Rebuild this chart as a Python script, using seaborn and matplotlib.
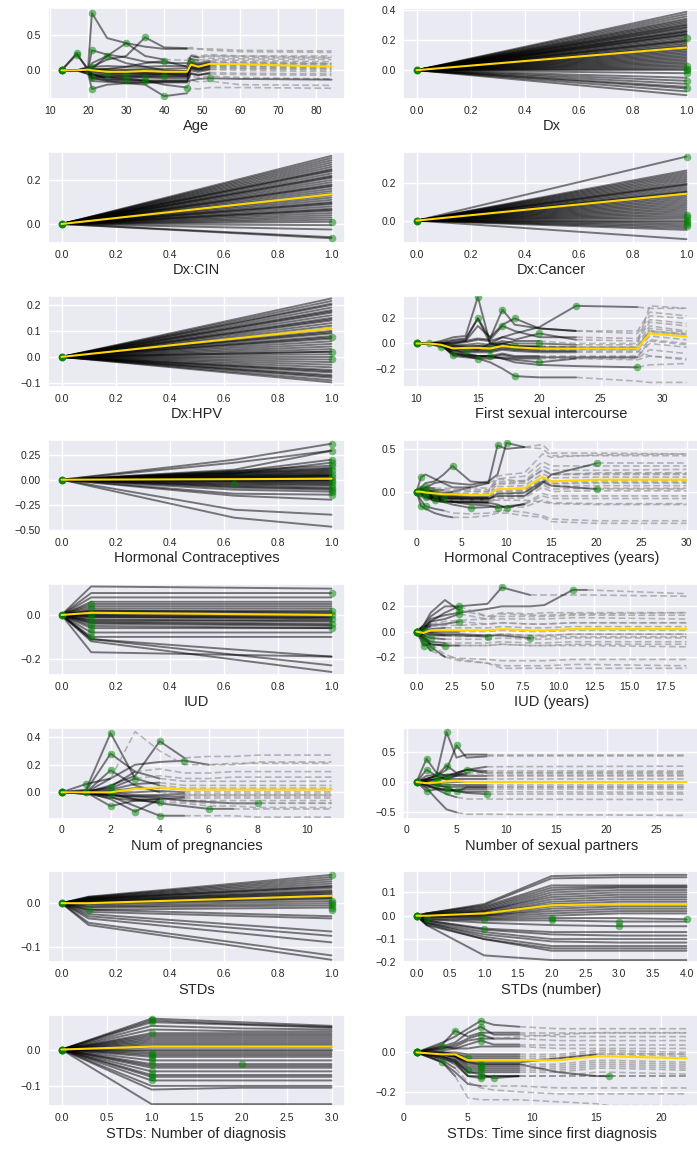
import matplotlib
matplotlib.use("Agg")
import matplotlib.pyplot as plt
import seaborn as sns

# ---------------- data ----------------
# Age
AGE_X = [13, 17, 20, 21, 25, 30, 35, 40, 46, 47, 49, 52, 60, 84]
AGE_MEAN = [0, 0.0, 0.01, 0.0, -0.02, -0.02, -0.01, -0.02, -0.02, 0.08, 0.05, 0.09, 0.085, 0.05]
AGE_CURVES = [
    [0, 0.0, 0.05, 0.8, 0.45, 0.38, 0.33, 0.3, 0.3, 0.32, 0.3, 0.3, 0.28, 0.27],
    [0, 0.0, 0.02, 0.05, 0.15, 0.2, 0.46, 0.32, 0.31, 0.3, 0.3, 0.28, 0.26, 0.25],
    [0, 0.0, 0.0, 0.1, 0.2, 0.38, 0.2, 0.15, 0.14, 0.22, 0.2, 0.22, 0.2, 0.2],
    [0, 0.0, 0.0, 0.28, 0.22, 0.18, 0.12, 0.1, 0.1, 0.2, 0.18, 0.2, 0.18, 0.17],
    [0, 0.24, 0.0, 0.02, 0.0, -0.02, -0.02, -0.03, -0.03, 0.07, 0.05, 0.08, 0.08, 0.06],
    [0, 0.22, 0.02, 0.0, -0.03, -0.04, -0.05, -0.05, -0.05, 0.05, 0.03, 0.06, 0.06, 0.04],
    [0, 0.0, -0.05, -0.26, -0.2, -0.18, -0.17, -0.17, -0.17, -0.08, -0.1, -0.08, -0.1, -0.12],
    [0, 0.0, -0.05, -0.1, -0.15, -0.18, -0.2, -0.36, -0.32, -0.25, -0.26, -0.24, -0.24, -0.25],
    [0, 0.0, -0.03, -0.06, -0.1, -0.12, -0.14, -0.2, -0.24, -0.14, -0.16, -0.15, -0.2, -0.21],
    [0, 0.0, -0.02, -0.12, -0.13, -0.13, -0.14, -0.14, -0.14, -0.04, -0.06, -0.05, -0.06, -0.07],
    [0, 0.0, 0.0, -0.1, -0.1, -0.11, -0.1, -0.11, -0.11, 0.0, -0.02, 0.01, 0.0, -0.02],
    [0, 0.0, 0.0, -0.07, -0.08, -0.08, -0.08, -0.08, -0.08, 0.03, 0.01, 0.04, 0.03, 0.02],
    [0, 0.0, 0.01, -0.04, -0.05, -0.05, -0.05, -0.05, -0.06, 0.06, 0.04, 0.07, 0.06, 0.05],
    [0, 0.0, 0.01, -0.02, -0.03, -0.03, -0.03, -0.03, -0.03, 0.09, 0.07, 0.1, 0.09, 0.08],
    [0, 0.0, 0.02, 0.0, -0.01, 0.0, 0.0, -0.01, -0.01, 0.12, 0.1, 0.13, 0.12, 0.1],
    [0, 0.0, 0.01, 0.02, 0.02, 0.01, 0.02, 0.02, 0.03, 0.16, 0.14, 0.17, 0.16, 0.15],
    [0, 0.0, 0.03, 0.05, 0.06, 0.05, 0.05, 0.06, 0.06, 0.2, 0.18, 0.2, 0.2, 0.18],
    [0, 0.0, 0.0, -0.15, -0.16, -0.16, -0.17, -0.16, -0.16, -0.14, -0.12, -0.11, -0.12, -0.13],
    [0, 0.0, 0.0, -0.05, -0.13, -0.14, -0.15, -0.15, -0.15, -0.05, -0.07, -0.03, -0.04, -0.05],
    [0, 0.0, 0.02, 0.02, 0.2, 0.1, 0.05, 0.0, -0.01, 0.1, 0.08, 0.11, 0.1, 0.09],
    [0, 0.0, 0.0, 0.0, 0.02, 0.05, 0.1, 0.13, 0.05, 0.15, 0.12, 0.15, 0.14, 0.12],
    [0, 0.0, -0.01, -0.09, -0.09, -0.09, -0.09, -0.09, -0.09, 0.02, 0.0, 0.02, 0.02, 0.0],
    [0, 0.0, -0.01, -0.06, -0.06, -0.07, -0.07, -0.06, -0.07, 0.04, 0.02, 0.05, 0.04, 0.03],
    [0, 0.0, 0.0, -0.01, -0.02, -0.01, -0.02, -0.02, -0.02, 0.1, 0.08, 0.11, 0.11, 0.09],
]
AGE_SOLID = [8, 8, 7, 8, 11, 11, 8, 8, 8, 11, 11, 11, 11, 11, 11, 10, 10, 13, 11, 8, 8, 11, 11, 11]
AGE_OBS = [3, 6, 5, 3, 1, 1, 3, 7, 8, 5, 6, 7, 4, 0, 9, 2, 3, 11, 6, 4, 7, 3, 5, 0]

# Dx
DX_END = [0.385, 0.37, 0.355, 0.34, 0.33, 0.32, 0.31, 0.30, 0.295, 0.285, 0.28, 0.27, 0.26,
          0.255, 0.25, 0.24, 0.235, 0.23, 0.22, 0.21, 0.2, 0.195, 0.19, 0.18, 0.17, 0.16,
          0.155, 0.15, 0.14, 0.13, 0.12, 0.11, 0.10, 0.09, 0.08, 0.07, 0.06, 0.05, 0.04,
          0.03, 0.02, 0.01, 0.0, -0.02, -0.05, -0.07, -0.09, -0.11, -0.12, -0.14, -0.165]
DX_DOTS = [0.21, 0.03, 0.01, 0.0, -0.02, -0.07, -0.12]
DX_MEAN = [0, 0.15]

# Dx:CIN
CIN_END = [0.31, 0.30, 0.29, 0.28, 0.27, 0.26, 0.25, 0.245, 0.24, 0.23, 0.22, 0.215, 0.21,
           0.2, 0.19, 0.18, 0.175, 0.17, 0.16, 0.15, 0.14, 0.13, 0.12, 0.11, 0.1, 0.095,
           0.09, 0.08, 0.07, 0.065, 0.06, 0.05, 0.04, 0.03, 0.02, 0.01, -0.005, -0.025,
           -0.06, -0.065]
CIN_DOTS = [0.01, -0.065]
CIN_MEAN = [0, 0.135]

# Dx:Cancer
CAN_END = [0.345, 0.27, 0.26, 0.25, 0.24, 0.23, 0.22, 0.21, 0.2, 0.195, 0.19, 0.18, 0.17,
           0.16, 0.155, 0.15, 0.14, 0.13, 0.12, 0.11, 0.1, 0.09, 0.08, 0.07, 0.06, 0.05,
           0.04, 0.03, 0.02, 0.01, 0.0, -0.01, -0.02, -0.03, -0.04, -0.05, -0.1]
CAN_DOTS = [0.345, 0.03, 0.02, 0.005, -0.01, -0.02, -0.03]
CAN_MEAN = [0, 0.145]

# Dx:HPV
HPV_END = [0.225, 0.215, 0.205, 0.2, 0.19, 0.18, 0.175, 0.17, 0.16, 0.15, 0.145, 0.14, 0.13,
           0.12, 0.11, 0.1, 0.095, 0.09, 0.08, 0.075, 0.07, 0.06, 0.05, 0.04, 0.03, 0.02,
           0.02, 0.01, 0.0, -0.01, -0.02, -0.03, -0.04, -0.05, -0.055, -0.06, -0.07,
           -0.075, -0.08, -0.09, -0.098]
HPV_DOTS = [0.075, 0.02, -0.01]
HPV_MEAN = [0, 0.11]

# First sexual intercourse
FSI_X = [10, 11, 12, 13, 14, 15, 16, 17, 18, 20, 23, 28, 29, 32]
FSI_MEAN = [0, 0, -0.01, -0.04, -0.035, -0.035, -0.04, -0.02, -0.03, -0.04, -0.04, -0.04, 0.08, 0.055]
FSI_CURVES = [
    [0, 0, 0.02, 0.05, 0.06, 0.37, 0.0, -0.02, -0.03, -0.03, -0.03, -0.03, 0.09, 0.07],
    [0, 0, 0.01, 0.03, 0.04, 0.2, 0.04, 0.27, 0.15, 0.12, 0.1, 0.08, 0.22, 0.2],
    [0, 0, 0.0, 0.02, 0.03, 0.2, 0.0, 0.0, -0.02, -0.02, -0.03, -0.03, 0.1, 0.08],
    [0, 0, 0.0, 0.0, 0.02, 0.14, 0.05, 0.15, 0.2, 0.12, 0.1, 0.1, 0.25, 0.22],
    [0, 0, 0.0, -0.02, -0.03, -0.05, 0.0, 0.05, 0.08, 0.13, 0.3, 0.29, 0.28, 0.28],
    [0, 0, -0.02, -0.08, -0.1, -0.12, -0.15, -0.2, -0.26, -0.27, -0.27, -0.3, -0.31, -0.31],
    [0, 0, -0.02, -0.05, -0.08, -0.1, -0.1, -0.12, -0.15, -0.17, -0.18, -0.19, -0.17, -0.16],
    [0, 0, -0.01, -0.1, -0.11, -0.12, -0.12, -0.11, -0.12, -0.12, -0.12, -0.12, -0.05, -0.08],
    [0, 0, -0.01, -0.08, -0.09, -0.1, -0.1, -0.08, -0.1, -0.1, -0.1, -0.1, 0.0, -0.03],
    [0, 0, -0.01, -0.06, -0.07, -0.07, -0.07, -0.05, -0.06, -0.07, -0.07, -0.07, 0.03, 0.0],
    [0, 0, -0.01, -0.04, -0.05, -0.05, -0.05, -0.03, -0.04, -0.05, -0.05, -0.05, 0.06, 0.03],
    [0, 0, -0.01, -0.03, -0.03, -0.02, -0.03, 0.0, -0.02, -0.03, -0.03, -0.03, 0.1, 0.07],
    [0, 0, 0.0, -0.01, -0.01, 0.0, -0.01, 0.02, 0.0, 0.0, -0.01, -0.01, 0.14, 0.1],
    [0, 0, 0.0, 0.0, 0.01, 0.03, 0.02, 0.05, 0.03, 0.08, 0.03, 0.02, 0.17, 0.14],
    [0, 0, 0.0, 0.01, 0.02, 0.04, 0.03, 0.14, 0.1, 0.05, 0.05, 0.04, 0.19, 0.16],
    [0, 0, -0.01, -0.07, -0.09, -0.1, -0.1, -0.12, -0.13, -0.15, -0.12, -0.13, -0.1, -0.12],
    [0, 0, -0.03, -0.02, -0.02, -0.02, -0.02, 0.0, 0.02, 0.02, 0.0, 0.0, 0.3, 0.28],
    [0, 0, -0.01, -0.05, -0.06, -0.06, -0.06, -0.04, -0.05, -0.06, -0.06, -0.06, -0.1, -0.13],
    [0, 0, -0.01, -0.09, -0.1, -0.11, -0.11, -0.09, -0.11, -0.11, -0.11, -0.11, 0.02, -0.01],
    [0, 0, -0.01, -0.05, -0.04, -0.04, -0.04, -0.02, -0.03, -0.04, -0.04, -0.04, 0.12, 0.09],
]
FSI_SOLID = [9, 10, 9, 10, 11, 10, 11, 9, 9, 10, 9, 10, 10, 10, 10, 10, 9, 10, 11, 11]
FSI_OBS = [5, 7, 5, 8, 10, 8, 11, 5, 6, 0, 1, 8, 9, 9, 7, 9, 2, 4, 3, 6]

# Hormonal Contraceptives
HC_X = [0, 0.64, 1]
HC_MID = [0.2, 0.17, 0.1, 0.08, 0.06, 0.09, 0.08, 0.07, 0.065, 0.06, 0.05, 0.045, 0.04,
          0.035, 0.03, 0.025, 0.02, 0.015, 0.01, 0.005, 0.0, -0.005, -0.01, -0.015, -0.02,
          -0.03, -0.04, -0.05, -0.06, -0.07, -0.08, -0.1, -0.14, -0.16, -0.3, -0.38]
HC_END = [0.36, 0.29, 0.29, 0.2, 0.17, 0.14, 0.12, 0.11, 0.1, 0.09, 0.08, 0.07, 0.06, 0.05,
          0.045, 0.04, 0.035, 0.03, 0.02, 0.01, 0.0, -0.005, -0.01, -0.02, -0.03, -0.04,
          -0.05, -0.06, -0.08, -0.09, -0.1, -0.12, -0.15, -0.2, -0.35, -0.47]
HC_DOT_X = [1, 1, 1, 1, 1, 1, 1, 1, 1, 1, 1, 1, 1, 1, 1, 0.64]
HC_DOT_Y = [0.36, 0.29, 0.2, 0.17, 0.14, 0.1, 0.06, 0.03, 0.0, -0.02, -0.05, -0.08, -0.1,
            -0.12, -0.15, -0.04]
HC_MEAN = [0, 0.005, 0.01]

# Hormonal Contraceptives (years)
HCY_X = [0, 0.5, 1, 2, 3, 4, 6, 8, 9, 10, 12, 14, 15, 20, 30]
HCY_MEAN = [0, 0.0, -0.01, -0.02, -0.03, -0.03, -0.04, -0.04, 0.03, 0.03, 0.04, 0.17, 0.12, 0.14, 0.14]
HCY_CURVES = [
    [0, 0.05, 0.1, 0.12, 0.2, 0.3, 0.12, 0.1, 0.15, 0.14, 0.12, 0.25, 0.2, 0.2, 0.2],
    [0, 0.02, 0.0, -0.02, -0.03, 0.0, 0.05, 0.1, 0.54, 0.5, 0.52, 0.55, 0.45, 0.45, 0.44],
    [0, 0.0, 0.05, 0.1, 0.12, 0.1, 0.08, 0.12, 0.2, 0.57, 0.52, 0.5, 0.42, 0.42, 0.42],
    [0, 0.17, 0.2, 0.15, 0.1, 0.05, 0.05, 0.04, 0.1, 0.1, 0.12, 0.25, 0.2, 0.22, 0.22],
    [0, -0.17, -0.2, -0.25, -0.28, -0.3, -0.3, -0.28, -0.25, -0.25, -0.28, -0.3, -0.35, -0.37, -0.37],
    [0, -0.1, -0.17, -0.2, -0.22, -0.25, -0.26, -0.25, -0.23, -0.22, -0.24, -0.28, -0.32, -0.34, -0.34],
    [0, -0.05, -0.08, -0.1, -0.12, -0.15, -0.19, -0.18, -0.17, -0.18, -0.18, -0.1, -0.13, -0.14, -0.14],
    [0, -0.03, -0.06, -0.08, -0.1, -0.12, -0.15, -0.16, -0.19, -0.17, -0.15, -0.05, -0.08, -0.08, -0.08],
    [0, -0.02, -0.05, -0.08, -0.1, -0.12, -0.12, -0.13, -0.15, -0.19, -0.14, -0.02, -0.05, -0.05, -0.05],
    [0, -0.02, -0.04, -0.1, -0.11, -0.11, -0.12, -0.12, -0.06, -0.06, -0.05, 0.08, 0.03, 0.04, 0.04],
    [0, -0.01, -0.03, -0.08, -0.09, -0.09, -0.1, -0.1, -0.03, -0.03, -0.02, 0.1, 0.06, 0.07, 0.07],
    [0, 0.0, -0.02, -0.06, -0.07, -0.07, -0.08, -0.08, 0.0, 0.0, 0.01, 0.13, 0.09, 0.1, 0.1],
    [0, 0.0, -0.01, -0.04, -0.05, -0.05, -0.06, -0.06, 0.03, 0.03, 0.04, 0.17, 0.12, 0.13, 0.13],
    [0, 0.01, 0.0, -0.02, -0.03, -0.03, -0.04, -0.04, 0.06, 0.06, 0.07, 0.21, 0.16, 0.17, 0.17],
    [0, 0.02, 0.01, 0.0, -0.01, -0.01, -0.02, -0.02, 0.09, 0.09, 0.1, 0.26, 0.2, 0.21, 0.21],
    [0, 0.03, 0.03, 0.02, 0.02, 0.02, 0.01, 0.0, 0.12, 0.12, 0.13, 0.3, 0.25, 0.25, 0.26],
    [0, 0.04, 0.05, 0.04, 0.04, 0.04, 0.03, 0.02, 0.15, 0.16, 0.18, 0.35, 0.3, 0.3, 0.3],
    [0, -0.02, -0.04, -0.06, -0.07, -0.08, -0.08, -0.08, -0.05, -0.05, -0.05, 0.1, 0.2, 0.33, 0.33],
    [0, -0.01, -0.03, -0.07, -0.08, -0.08, -0.09, -0.09, -0.02, -0.02, -0.01, 0.12, 0.07, 0.03, 0.03],
    [0, 0.01, 0.02, 0.0, 0.0, 0.0, 0.0, 0.0, 0.18, 0.2, 0.22, 0.44, 0.4, 0.43, 0.44],
    [0, -0.03, -0.06, -0.08, -0.1, -0.1, -0.1, -0.1, -0.1, -0.1, -0.1, -0.12, -0.14, -0.15, -0.15],
    [0, -0.02, -0.05, -0.11, -0.12, -0.12, -0.13, -0.13, -0.08, -0.08, -0.07, 0.05, 0.0, 0.01, 0.01],
    [0, -0.01, -0.02, -0.05, -0.06, -0.06, -0.07, -0.07, 0.02, 0.01, 0.02, 0.15, 0.1, 0.11, 0.11],
]
HCY_SOLID = [7, 10, 10, 6, 5, 4, 8, 10, 10, 7, 7, 7, 7, 6, 5, 4, 3, 13, 13, 3, 4, 7, 7]
HCY_OBS = [5, 8, 9, 1, 1, 2, 6, 8, 9, 3, 4, 2, 0, 3, 2, 1, 2, 13, 13, 0, 2, 1, 0]

# IUD
IUD_X = [0, 0.11, 1]
IUD_MID = [0.13, 0.1, 0.08, 0.06, 0.05, 0.04, 0.03, 0.02, 0.02, 0.01, 0.01, 0.0, 0.0,
           -0.01, -0.01, -0.02, -0.03, -0.04, -0.05, -0.06, -0.08, -0.1, -0.11, -0.11,
           -0.12, -0.17, 0.015, -0.005, -0.025, -0.035]
IUD_END = [0.12, 0.1, 0.08, 0.06, 0.05, 0.04, 0.03, 0.02, 0.01, 0.0, 0.005, -0.01, 0.0,
           -0.02, -0.01, -0.03, -0.04, -0.05, -0.06, -0.06, -0.08, -0.1, -0.19, -0.23,
           -0.26, -0.19, 0.015, -0.015, -0.025, -0.045]
IUD_DOT_X = [0.11, 0.11, 0.11, 0.11, 0.11, 0.11, 0.11, 0.11, 1, 1, 1, 1, 1, 1]
IUD_DOT_Y = [0.05, 0.03, 0.0, -0.02, -0.04, -0.06, -0.08, -0.1, 0.1, 0.02, 0.0, -0.02, -0.04, -0.06]
IUD_MEAN = [0, 0.01, 0.0]

# IUD (years)
IUDY_X = [0, 0.5, 1, 2, 3, 5, 6, 8, 9, 11, 12, 19]
IUDY_MEAN = [0, -0.01, 0.01, 0.01, 0.01, 0.01, 0.02, 0.01, 0.01, 0.02, 0.02, 0.02]
IUDY_CURVES = [
    [0, 0.02, 0.08, 0.15, 0.2, 0.22, 0.35, 0.29, 0.29, 0.29, 0.29, 0.28],
    [0, 0.03, 0.1, 0.13, 0.15, 0.18, 0.2, 0.2, 0.21, 0.33, 0.33, 0.3],
    [0, 0.05, 0.12, 0.2, 0.2, 0.12, 0.15, 0.14, 0.15, 0.15, 0.15, 0.15],
    [0, 0.05, 0.15, 0.25, 0.17, 0.12, 0.12, 0.12, 0.12, 0.13, 0.13, 0.13],
    [0, 0.03, 0.08, 0.1, 0.14, 0.1, 0.1, 0.1, 0.1, 0.11, 0.11, 0.1],
    [0, 0.02, 0.05, 0.06, 0.08, 0.06, 0.07, 0.06, 0.06, 0.07, 0.07, 0.07],
    [0, -0.05, -0.08, -0.09, -0.09, -0.09, -0.08, -0.09, -0.09, -0.08, -0.08, -0.08],
    [0, -0.03, -0.05, -0.06, -0.06, -0.06, -0.05, -0.06, -0.06, -0.05, -0.05, -0.05],
    [0, -0.02, -0.03, -0.03, -0.04, -0.03, -0.02, -0.03, -0.03, -0.02, -0.02, -0.02],
    [0, 0.0, 0.0, 0.0, 0.0, 0.0, 0.01, 0.0, 0.0, 0.01, 0.01, 0.01],
    [0, 0.01, 0.02, 0.03, 0.03, 0.03, 0.04, 0.03, 0.03, 0.04, 0.04, 0.04],
    [0, 0.02, 0.04, 0.05, 0.05, 0.06, 0.07, 0.06, 0.06, 0.07, 0.07, 0.07],
    [0, -0.11, -0.1, -0.11, -0.11, -0.11, -0.1, -0.11, -0.11, -0.1, -0.1, -0.1],
    [0, -0.06, -0.1, -0.11, -0.11, -0.11, -0.1, -0.11, -0.11, -0.11, -0.11, -0.12],
    [0, -0.08, -0.15, -0.2, -0.21, -0.22, -0.23, -0.23, -0.23, -0.22, -0.22, -0.22],
    [0, -0.05, -0.12, -0.2, -0.23, -0.25, -0.27, -0.27, -0.27, -0.26, -0.26, -0.27],
    [0, -0.03, -0.1, -0.18, -0.22, -0.25, -0.29, -0.29, -0.29, -0.29, -0.29, -0.29],
    [0, -0.01, -0.02, -0.03, -0.03, -0.04, -0.02, -0.03, -0.03, -0.02, -0.02, -0.02],
    [0, 0.0, -0.01, -0.02, -0.02, -0.03, -0.03, -0.05, -0.04, -0.04, -0.04, -0.04],
    [0, 0.03, 0.06, 0.08, 0.09, 0.1, 0.14, 0.13, 0.13, 0.14, 0.14, 0.15],
]
IUDY_SOLID = [7, 10, 4, 4, 4, 4, 3, 3, 3, 4, 3, 2, 3, 4, 2, 3, 2, 5, 7, 2]
IUDY_OBS = [6, 9, 4, 4, 4, 4, 1, 2, 0, 0, 1, 0, 1, 3, 1, 2, 0, 5, 7, 0]

# Num of pregnancies
NP_X = [0, 1, 2, 3, 4, 5, 6, 7, 8, 11]
NP_MEAN = [0, 0.0, 0.0, 0.025, 0.035, 0.02, 0.02, 0.02, 0.02, 0.02]
NP_CURVES = [
    [0, 0.02, 0.43, 0.1, 0.05, 0.03, 0.03, 0.03, 0.03, 0.03],
    [0, 0.01, 0.28, 0.15, 0.1, 0.08, 0.08, 0.08, 0.08, 0.08],
    [0, 0.0, 0.05, 0.12, 0.37, 0.25, 0.26, 0.26, 0.27, 0.27],
    [0, 0.0, 0.1, 0.2, 0.22, 0.23, 0.2, 0.2, 0.22, 0.22],
    [0, 0.06, 0.1, 0.44, 0.3, 0.2, 0.2, 0.21, 0.21, 0.21],
    [0, 0.0, -0.05, -0.14, -0.05, -0.06, -0.06, -0.06, -0.06, -0.06],
    [0, 0.0, -0.03, -0.1, -0.17, -0.17, -0.17, -0.17, -0.18, -0.18],
    [0, -0.01, -0.02, -0.05, -0.08, -0.1, -0.12, -0.12, -0.12, -0.12],
    [0, -0.01, -0.02, -0.03, -0.04, -0.06, -0.07, -0.08, -0.08, -0.08],
    [0, -0.01, -0.01, -0.05, -0.05, -0.04, -0.04, -0.04, -0.04, -0.04],
    [0, 0.0, 0.0, -0.02, -0.02, -0.01, -0.01, -0.01, -0.01, -0.01],
    [0, 0.0, 0.01, 0.03, 0.03, 0.02, 0.02, 0.02, 0.02, 0.02],
    [0, 0.0, 0.02, 0.06, 0.07, 0.05, 0.05, 0.05, 0.05, 0.05],
    [0, 0.01, 0.03, 0.1, 0.12, 0.1, 0.1, 0.11, 0.11, 0.11],
    [0, 0.0, 0.04, 0.15, 0.17, 0.14, 0.14, 0.15, 0.15, 0.15],
    [0, 0.0, -0.1, -0.06, -0.05, -0.07, -0.08, -0.08, -0.08, -0.08],
    [0, 0.0, 0.16, 0.05, 0.0, -0.02, -0.02, -0.02, -0.02, -0.02],
    [0, -0.01, -0.04, -0.06, -0.07, -0.08, -0.1, -0.1, -0.11, -0.11],
    [0, 0.0, -0.02, -0.03, -0.03, -0.03, -0.03, -0.03, -0.03, -0.03],
    [0, 0.0, 0.0, 0.0, 0.01, 0.0, 0.0, 0.0, 0.0, 0.0],
]
NP_SOLID = [4, 4, 5, 6, 2, 4, 5, 7, 8, 5, 5, 4, 4, 3, 3, 4, 4, 4, 5, 5]
NP_OBS = [2, 2, 4, 5, 1, 3, 4, 6, 8, 2, 1, 0, 2, 3, 2, 2, 2, 4, 1, 0]

# Number of sexual partners
NSP_X = [1, 2, 3, 4, 5, 6, 8, 28]
NSP_MEAN = [0, -0.02, -0.01, 0.01, 0.02, 0.0, 0.0, 0.0]
NSP_CURVES = [
    [0, 0.1, 0.12, 0.82, 0.4, 0.45, 0.45, 0.45],
    [0, 0.05, 0.1, 0.2, 0.6, 0.4, 0.42, 0.42],
    [0, 0.38, 0.15, 0.1, 0.15, 0.2, 0.25, 0.26],
    [0, 0.2, 0.1, 0.05, 0.1, 0.15, 0.15, 0.16],
    [0, 0.05, 0.1, 0.27, 0.15, 0.2, 0.18, 0.18],
    [0, 0.02, 0.05, 0.1, 0.12, 0.2, 0.15, 0.14],
    [0, -0.1, -0.28, -0.45, -0.5, -0.53, -0.53, -0.55],
    [0, -0.05, -0.12, -0.2, -0.25, -0.28, -0.28, -0.29],
    [0, -0.05, -0.1, -0.12, -0.15, -0.18, -0.2, -0.2],
    [0, -0.15, -0.12, -0.13, -0.15, -0.16, -0.16, -0.17],
    [0, -0.08, -0.1, -0.15, -0.13, -0.12, -0.12, -0.12],
    [0, -0.05, -0.06, -0.08, -0.15, -0.09, -0.09, -0.09],
    [0, -0.02, -0.03, -0.04, -0.05, -0.05, -0.05, -0.05],
    [0, 0.0, 0.0, 0.0, 0.0, 0.0, 0.0, 0.0],
    [0, 0.02, 0.04, 0.05, 0.05, 0.05, 0.05, 0.05],
    [0, 0.03, 0.05, 0.08, 0.1, 0.1, 0.1, 0.1],
    [0, 0.05, 0.1, 0.12, 0.13, 0.12, 0.12, 0.12],
    [0, 0.0, -0.05, -0.08, -0.08, -0.08, -0.08, -0.08],
]
NSP_SOLID = [6, 6, 6, 5, 6, 6, 4, 4, 6, 6, 6, 6, 6, 6, 6, 6, 5, 6]
NSP_OBS = [3, 4, 1, 1, 3, 5, 0, 0, 6, 1, 3, 4, 2, 2, 2, 3, 2, 3]

# STDs
STD_X = [0, 0.1, 1]
STD_MID = [0.015, 0.014, 0.013, 0.012, 0.011, 0.01, 0.01, 0.009, 0.008, 0.007, 0.006, 0.005,
           0.004, 0.003, 0.002, 0.0, -0.002, -0.005, -0.008, -0.01, -0.015, -0.015, -0.02,
           -0.025, -0.03, -0.035, -0.045, -0.05]
STD_END = [0.065, 0.06, 0.055, 0.05, 0.045, 0.04, 0.038, 0.035, 0.03, 0.027, 0.025, 0.022,
           0.02, 0.017, 0.015, 0.012, 0.01, 0.005, 0.0, -0.005, -0.01, -0.03, -0.035,
           -0.065, -0.075, -0.09, -0.12, -0.13]
STD_DOT_X = [1, 1, 1, 1, 1, 1, 0.1]
STD_DOT_Y = [0.065, 0.005, 0.0, -0.005, -0.01, -0.015, -0.015]
STD_MEAN = [0, 0.0, 0.017]

# STDs (number)
STDN_X = [0, 0.15, 1, 2, 3, 4]
STDN_MEAN = [0, 0.0, 0.01, 0.045, 0.05, 0.05]
STDN_CURVES = [
    [0, 0.01, 0.05, 0.17, 0.175, 0.175],
    [0, 0.01, 0.045, 0.16, 0.165, 0.165],
    [0, 0.01, 0.04, 0.13, 0.13, 0.13],
    [0, 0.005, 0.035, 0.12, 0.125, 0.125],
    [0, 0.005, 0.03, 0.11, 0.12, 0.12],
    [0, 0.005, 0.025, 0.1, 0.11, 0.11],
    [0, 0.0, 0.02, 0.09, 0.1, 0.1],
    [0, 0.0, 0.02, 0.08, 0.09, 0.09],
    [0, 0.0, 0.015, 0.07, 0.08, 0.08],
    [0, 0.0, 0.01, 0.06, 0.07, 0.07],
    [0, 0.0, 0.01, 0.05, 0.06, 0.06],
    [0, 0.0, 0.005, 0.04, 0.05, 0.05],
    [0, 0.0, 0.0, 0.03, 0.04, 0.04],
    [0, 0.0, 0.0, 0.02, 0.03, 0.03],
    [0, -0.005, -0.005, 0.01, 0.02, 0.02],
    [0, -0.005, -0.01, 0.0, 0.01, 0.01],
    [0, -0.01, -0.015, -0.01, -0.01, -0.015],
    [0, -0.015, -0.02, -0.02, -0.025, -0.025],
    [0, -0.015, -0.03, -0.04, -0.045, -0.045],
    [0, -0.02, -0.055, -0.07, -0.07, -0.07],
    [0, -0.02, -0.06, -0.08, -0.085, -0.085],
    [0, -0.025, -0.07, -0.1, -0.1, -0.1],
    [0, -0.03, -0.08, -0.11, -0.115, -0.115],
    [0, -0.03, -0.09, -0.13, -0.13, -0.13],
    [0, -0.035, -0.1, -0.14, -0.14, -0.14],
    [0, -0.04, -0.1, -0.15, -0.15, -0.15],
    [0, -0.04, -0.17, -0.19, -0.19, -0.19],
]
STDN_DOT_X = [0, 0, 0, 0.15, 1, 1, 2, 2, 3, 3, 4]
STDN_DOT_Y = [0, 0, 0, -0.015, -0.015, -0.055, -0.01, -0.02, -0.025, -0.045, -0.015]

# STDs: Number of diagnosis
SND_X = [0, 1, 2, 3]
SND_MEAN = [0, 0.008, 0.008, 0.008]
SND_CURVES = [
    [0, 0.085, 0.075, 0.065], [0, 0.08, 0.07, 0.062], [0, 0.075, 0.068, 0.06],
    [0, 0.065, 0.058, 0.055], [0, 0.055, 0.05, 0.05], [0, 0.045, 0.045, 0.045],
    [0, 0.04, 0.04, 0.04], [0, 0.035, 0.035, 0.035], [0, 0.03, 0.03, 0.03],
    [0, 0.025, 0.025, 0.025], [0, 0.02, 0.02, 0.02], [0, 0.015, 0.015, 0.015],
    [0, 0.01, 0.01, 0.01], [0, 0.005, 0.005, 0.005], [0, 0.0, 0.0, 0.0],
    [0, -0.005, -0.005, -0.005], [0, -0.01, -0.01, -0.01], [0, -0.015, -0.015, -0.015],
    [0, -0.02, -0.02, -0.02], [0, -0.03, -0.03, -0.03], [0, -0.04, -0.04, -0.04],
    [0, -0.045, -0.045, -0.045], [0, -0.05, -0.05, -0.05], [0, -0.06, -0.06, -0.06],
    [0, -0.07, -0.07, -0.07], [0, -0.075, -0.075, -0.075], [0, -0.085, -0.085, -0.085],
    [0, -0.1, -0.1, -0.1], [0, -0.11, -0.105, -0.105], [0, -0.15, -0.15, -0.15],
]
SND_DOT_X = [0, 0, 0, 1, 1, 1, 1, 1, 1, 1, 1, 1, 1, 1, 1, 1, 2]
SND_DOT_Y = [0, 0, 0, 0.085, 0.08, 0.075, 0.045, -0.01, -0.015, -0.02, -0.03, -0.04,
             -0.06, -0.07, -0.075, -0.085, -0.04]

# STDs: Time since first diagnosis
STT_X = [1, 3, 4, 5, 6, 7, 9, 12, 15, 16, 22]
STT_MEAN = [0, -0.01, -0.01, -0.04, -0.04, -0.04, -0.04, -0.04, -0.02, -0.02, -0.03]
STT_CURVES = [
    [0, 0.05, 0.08, 0.12, 0.16, 0.14, 0.13, 0.12, 0.12, 0.12, 0.12],
    [0, 0.04, 0.11, 0.08, 0.1, 0.1, 0.1, 0.1, 0.1, 0.1, 0.1],
    [0, 0.03, 0.05, 0.1, 0.13, 0.09, 0.09, 0.08, 0.08, 0.08, 0.08],
    [0, 0.02, 0.04, 0.07, 0.09, 0.07, 0.07, 0.06, 0.06, 0.06, 0.06],
    [0, 0.01, 0.02, 0.04, 0.06, 0.04, 0.04, 0.04, 0.04, 0.04, 0.04],
    [0, 0.03, 0.02, 0.02, 0.03, 0.03, 0.03, 0.02, 0.02, 0.02, 0.02],
    [0, -0.01, -0.02, -0.06, -0.06, -0.06, -0.06, -0.06, -0.04, -0.04, -0.05],
    [0, -0.01, -0.03, -0.08, -0.08, -0.08, -0.08, -0.08, -0.06, -0.06, -0.07],
    [0, -0.02, -0.04, -0.1, -0.1, -0.1, -0.1, -0.1, -0.08, -0.08, -0.09],
    [0, -0.02, -0.05, -0.12, -0.12, -0.12, -0.12, -0.12, -0.1, -0.1, -0.11],
    [0, -0.03, -0.06, -0.12, -0.13, -0.12, -0.12, -0.12, -0.12, -0.12, -0.12],
    [0, -0.03, -0.05, -0.1, -0.11, -0.13, -0.12, -0.12, -0.12, -0.12, -0.12],
    [0, 0.0, -0.01, -0.03, -0.03, -0.03, -0.03, -0.03, -0.01, -0.01, -0.02],
    [0, 0.0, 0.0, -0.01, -0.01, -0.01, -0.01, -0.01, 0.01, 0.01, 0.0],
    [0, -0.05, -0.1, -0.16, -0.17, -0.17, -0.17, -0.18, -0.18, -0.18, -0.18],
    [0, -0.04, -0.08, -0.15, -0.18, -0.19, -0.2, -0.21, -0.21, -0.21, -0.21],
    [0, -0.05, -0.12, -0.23, -0.24, -0.24, -0.24, -0.25, -0.26, -0.27, -0.27],
    [0, -0.01, -0.02, -0.05, -0.06, -0.06, -0.06, -0.1, -0.12, -0.12, -0.12],
    [0, -0.01, -0.02, -0.05, -0.05, -0.05, -0.05, -0.03, -0.01, -0.01, -0.01],
    [0, 0.02, 0.03, 0.06, 0.07, 0.07, 0.08, 0.09, 0.1, 0.1, 0.1],
    [0, -0.01, -0.02, -0.07, -0.07, -0.07, -0.07, -0.07, -0.05, -0.05, -0.06],
    [0, -0.02, -0.04, -0.09, -0.09, -0.09, -0.09, -0.09, -0.07, -0.07, -0.08],
    [0, 0.0, -0.01, -0.02, -0.02, -0.02, -0.02, -0.02, 0.0, 0.0, -0.01],
]
STT_SOLID = [6, 6, 6, 6, 6, 6, 6, 6, 6, 6, 6, 6, 6, 6, 4, 2, 2, 9, 8, 5, 6, 6, 6]
STT_OBS = [4, 2, 4, 4, 4, 1, 4, 4, 4, 4, 4, 5, 3, 0, 1, 0, 0, 9, 0, 0, 4, 3, 0]

# ---------------- style ----------------
sns.set_theme(style="darkgrid")
plt.rcParams["font.family"] = ["Liberation Sans", "DejaVu Sans"]

W, H = 697, 1149
fig = plt.figure(figsize=(W / 100, H / 100), dpi=100)

SOLID_KW = dict(color="black", alpha=0.5, lw=1.4, zorder=1)
DASH_KW = dict(color="#8c8c8c", alpha=0.6, lw=1.2, ls=(0, (4, 2)), zorder=1)
DOT_KW = dict(color="green", alpha=0.5, s=30, linewidth=0, zorder=3)
MEAN_COLOR = "#FFD700"


def make_ax(row, col):
    left = 48 if col == 0 else 403
    top = 8 + 143.9 * row
    return fig.add_axes([left / W, 1 - (top + 91) / H, 297 / W, 91 / H])


def ice(ax, xs, curves, solid, obs, mean, dot_x=None, dot_y=None):
    dx, dy = [], []
    for ys, s, o in zip(curves, solid, obs):
        ax.plot(xs[:s + 1], ys[:s + 1], **SOLID_KW)
        if s < len(xs) - 1:
            ax.plot(xs[s:], ys[s:], **DASH_KW)
        if o is not None:
            dx.append(xs[o])
            dy.append(ys[o])
    if dot_x is not None:
        dx += list(dot_x)
        dy += list(dot_y)
    # starting point of every curve marked at the origin of the grid
    dx += [xs[0]] * 4
    dy += [0.0] * 4
    sns.scatterplot(x=dx, y=dy, ax=ax, legend=False, **DOT_KW)
    sns.lineplot(x=xs, y=mean, ax=ax, color=MEAN_COLOR, lw=1.5, zorder=4,
                 estimator=None, sort=False)


def finish(ax, label, xticks, yticks, ylim):
    ax.set_xticks(xticks)
    ax.set_yticks(yticks)
    ax.set_ylim(*ylim)
    ax.set_xlabel(label, fontsize=10.5, labelpad=2.5)
    ax.set_ylabel("")
    ax.tick_params(axis="both", labelsize=7.5, pad=5, length=0)


def linear(ends):
    return [[0, e] for e in ends]


def three(mids, ends):
    return [[0, m, e] for m, e in zip(mids, ends)]


X01 = [0.0, 0.2, 0.4, 0.6, 0.8, 1.0]

# Row 0
ax = make_ax(0, 0)
ice(ax, AGE_X, AGE_CURVES, AGE_SOLID, AGE_OBS, AGE_MEAN)
finish(ax, "Age", [10, 20, 30, 40, 50, 60, 70, 80], [0.0, 0.5], (-0.40, 0.87))

ax = make_ax(0, 1)
c = linear(DX_END)
ice(ax, [0, 1], c, [1] * len(c), [None] * len(c), DX_MEAN, [1] * len(DX_DOTS), DX_DOTS)
finish(ax, "Dx", X01, [0.0, 0.2, 0.4], (-0.19, 0.41))

# Row 1
ax = make_ax(1, 0)
c = linear(CIN_END)
ice(ax, [0, 1], c, [1] * len(c), [None] * len(c), CIN_MEAN, [1] * len(CIN_DOTS), CIN_DOTS)
finish(ax, "Dx:CIN", X01, [0.0, 0.2], (-0.086, 0.328))

ax = make_ax(1, 1)
c = linear(CAN_END)
ice(ax, [0, 1], c, [1] * len(c), [None] * len(c), CAN_MEAN, [1] * len(CAN_DOTS), CAN_DOTS)
finish(ax, "Dx:Cancer", X01, [0.0, 0.2], (-0.12, 0.37))

# Row 2
ax = make_ax(2, 0)
c = linear(HPV_END)
ice(ax, [0, 1], c, [1] * len(c), [None] * len(c), HPV_MEAN, [1] * len(HPV_DOTS), HPV_DOTS)
finish(ax, "Dx:HPV", X01, [-0.1, 0.0, 0.1, 0.2], (-0.115, 0.235))

ax = make_ax(2, 1)
ice(ax, FSI_X, FSI_CURVES, FSI_SOLID, FSI_OBS, FSI_MEAN)
finish(ax, "First sexual intercourse", [10, 15, 20, 25, 30], [-0.2, 0.0, 0.2], (-0.345, 0.38))

# Row 3
ax = make_ax(3, 0)
c = three(HC_MID, HC_END)
ice(ax, HC_X, c, [2] * len(c), [None] * len(c), HC_MEAN, HC_DOT_X, HC_DOT_Y)
finish(ax, "Hormonal Contraceptives", X01, [-0.5, -0.25, 0.0, 0.25], (-0.51, 0.40))

ax = make_ax(3, 1)
ice(ax, HCY_X, HCY_CURVES, HCY_SOLID, HCY_OBS, HCY_MEAN)
finish(ax, "Hormonal Contraceptives (years)", [0, 5, 10, 15, 20, 25, 30], [0.0, 0.5], (-0.456, 0.607))

# Row 4
ax = make_ax(4, 0)
c = three(IUD_MID, IUD_END)
ice(ax, IUD_X, c, [2] * len(c), [None] * len(c), IUD_MEAN, IUD_DOT_X, IUD_DOT_Y)
finish(ax, "IUD", X01, [-0.2, 0.0], (-0.272, 0.143))

ax = make_ax(4, 1)
ice(ax, IUDY_X, IUDY_CURVES, IUDY_SOLID, IUDY_OBS, IUDY_MEAN)
finish(ax, "IUD (years)", [0.0, 2.5, 5.0, 7.5, 10.0, 12.5, 15.0, 17.5], [-0.2, 0.0, 0.2], (-0.34, 0.38))

# Row 5
ax = make_ax(5, 0)
ice(ax, NP_X, NP_CURVES, NP_SOLID, NP_OBS, NP_MEAN)
finish(ax, "Num of pregnancies", [0, 2, 4, 6, 8, 10], [-0.2, 0.0, 0.2, 0.4], (-0.19, 0.47))

ax = make_ax(5, 1)
ice(ax, NSP_X, NSP_CURVES, NSP_SOLID, NSP_OBS, NSP_MEAN)
finish(ax, "Number of sexual partners", [0, 5, 10, 15, 20, 25], [-0.5, 0.0, 0.5], (-0.6, 0.895))

# Row 6
ax = make_ax(6, 0)
c = three(STD_MID, STD_END)
ice(ax, STD_X, c, [2] * len(c), [None] * len(c), STD_MEAN, STD_DOT_X, STD_DOT_Y)
finish(ax, "STDs", X01, [-0.1, 0.0], (-0.136, 0.073))

ax = make_ax(6, 1)
n = len(STDN_CURVES)
ice(ax, STDN_X, STDN_CURVES, [5] * n, [None] * n, STDN_MEAN, STDN_DOT_X, STDN_DOT_Y)
finish(ax, "STDs (number)", [0.0, 0.5, 1.0, 1.5, 2.0, 2.5, 3.0, 3.5, 4.0], [-0.2, -0.1, 0.0, 0.1], (-0.2, 0.19))

# Row 7
ax = make_ax(7, 0)
n = len(SND_CURVES)
ice(ax, SND_X, SND_CURVES, [3] * n, [None] * n, SND_MEAN, SND_DOT_X, SND_DOT_Y)
finish(ax, "STDs: Number of diagnosis", [0.0, 0.5, 1.0, 1.5, 2.0, 2.5, 3.0], [-0.1, 0.0], (-0.156, 0.094))

ax = make_ax(7, 1)
ice(ax, STT_X, STT_CURVES, STT_SOLID, STT_OBS, STT_MEAN)
finish(ax, "STDs: Time since first diagnosis", [0, 5, 10, 15, 20], [-0.2, 0.0], (-0.273, 0.188))

fig.savefig("out.png", dpi=100)
